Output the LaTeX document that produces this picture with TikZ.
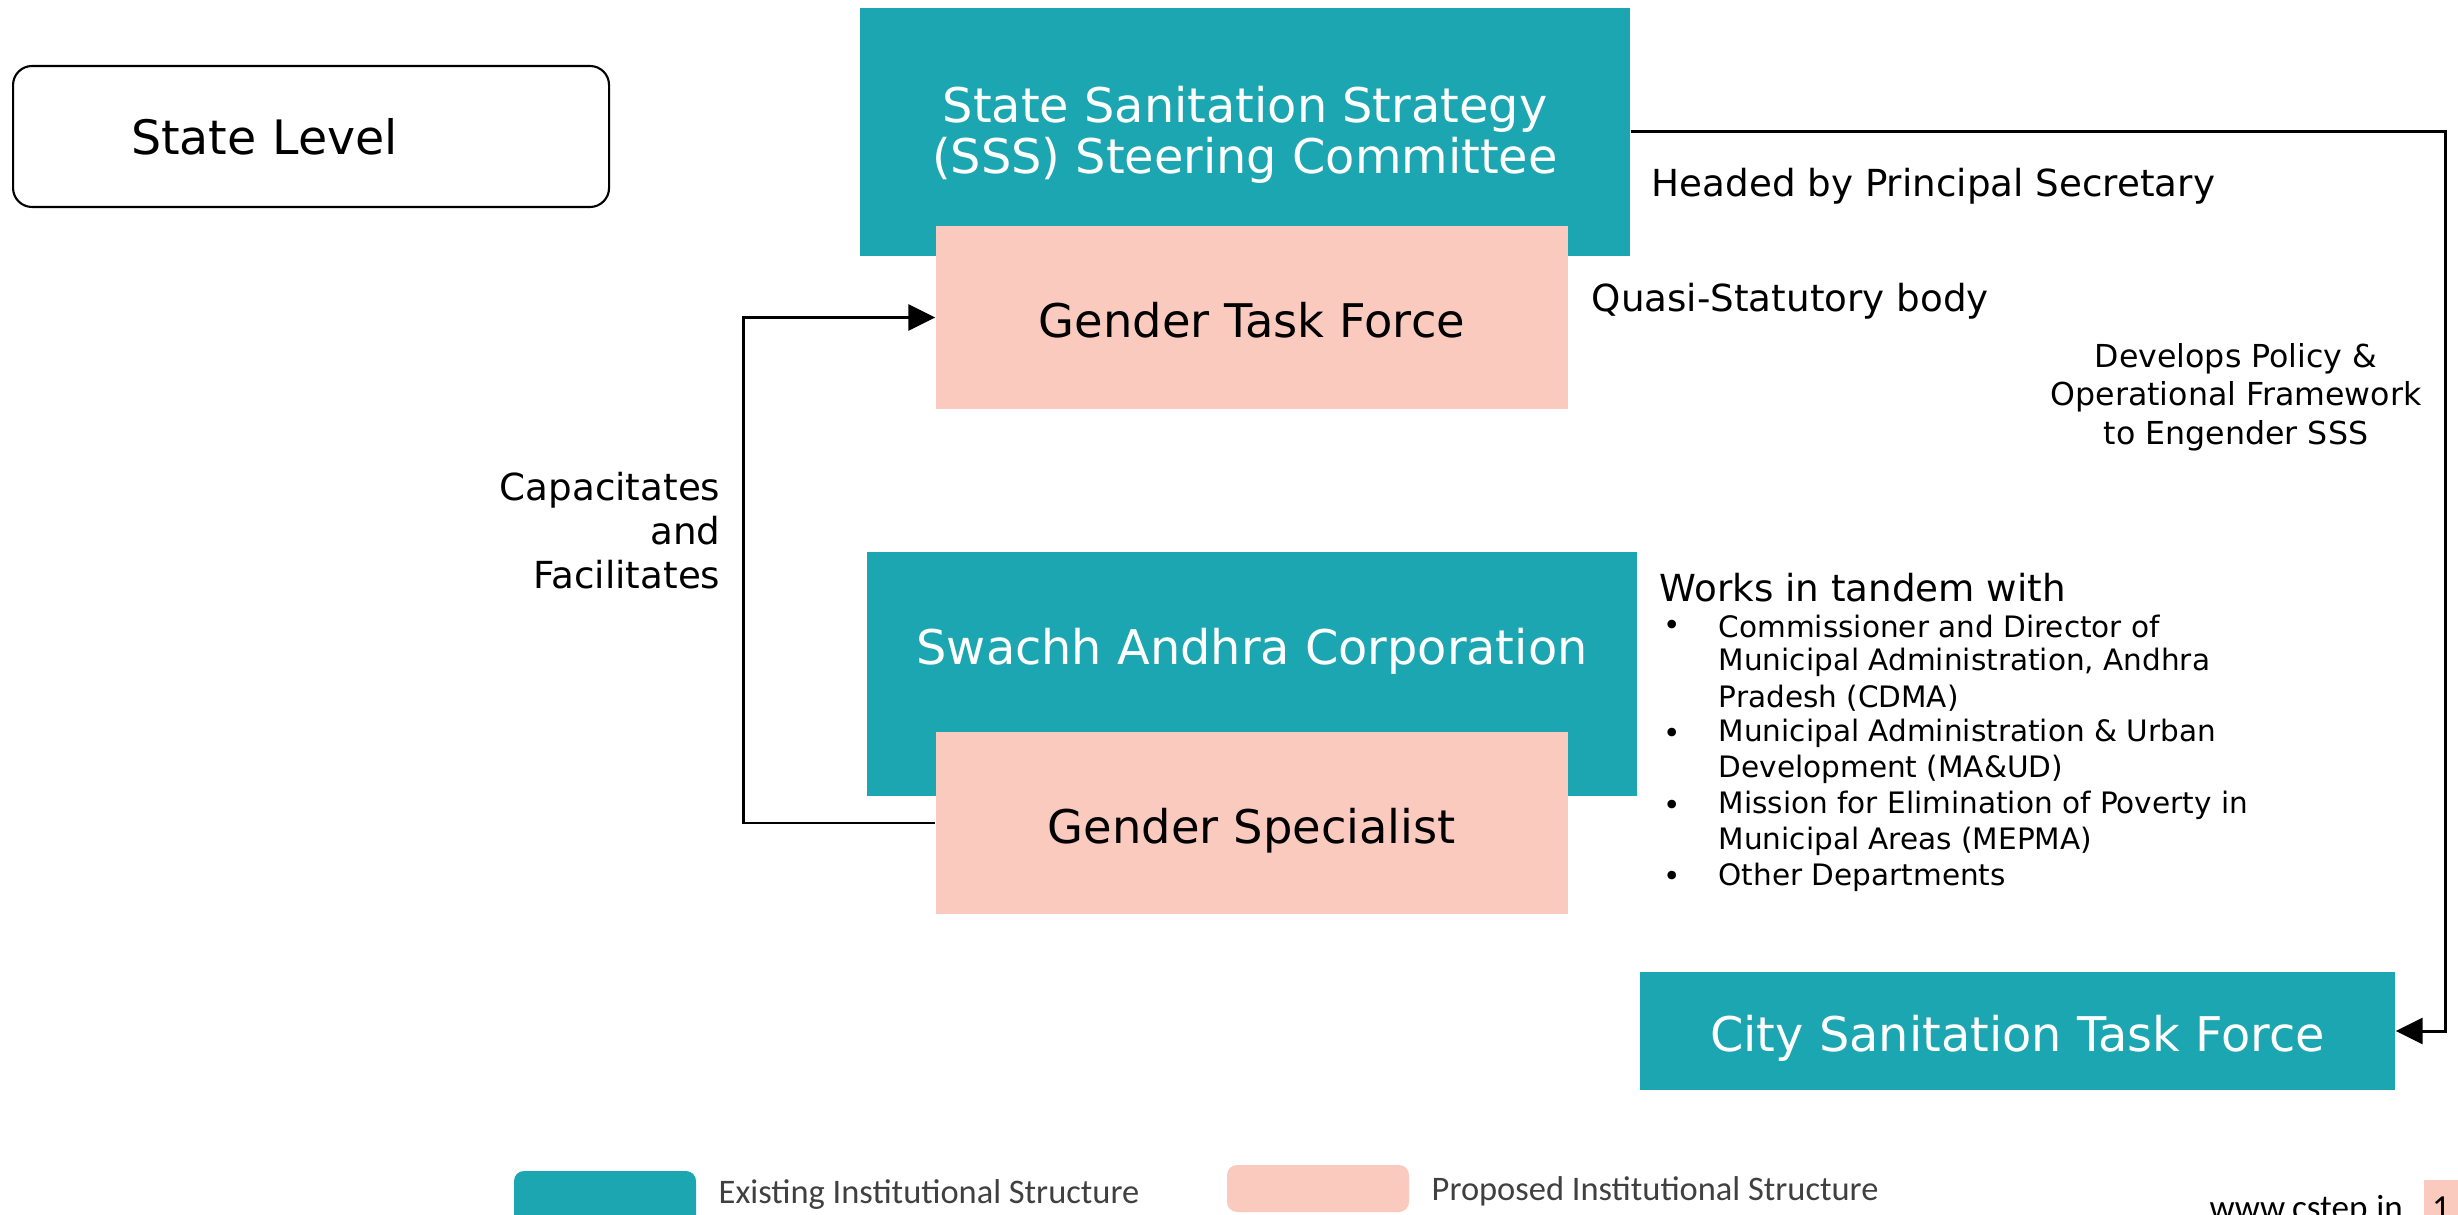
\documentclass[tikz,border=0pt]{standalone}
\usepackage{fontspec}
\setmainfont{DejaVu Sans}
\newfontfamily\legendfont{Carlito}
\usetikzlibrary{positioning, shapes, arrows.meta, calc}
\definecolor{existteal}{RGB}{27,166,178}
\definecolor{proppink}{RGB}{251,202,191}
\definecolor{legendgrey}{RGB}{64,64,64}

\begin{document}
\begin{tikzpicture}[x=0.1mm, y=-0.1mm,
    existing/.style={rectangle, fill=existteal, text=white, inner sep=0pt, align=center, font=\fontsize{13.6}{14.4}\selectfont},
    proposed/.style={rectangle, fill=proppink, text=black, inner sep=0pt, align=center, font=\fontsize{13.2}{14.4}\selectfont},
    oneline/.style={text height=4.0mm, text depth=0pt},
    note/.style={inner sep=0pt, font=\fontsize{10.6}{12.5}\selectfont},
    item/.style={inner sep=0pt, anchor=west, font=\fontsize{8.4}{10}\selectfont},
    legend/.style={inner sep=0pt, anchor=west, text=legendgrey, font=\legendfont\fontsize{9.8}{11}\selectfont},
    conn/.style={line width=0.85pt, -{Triangle[length=2.7mm, width=2.6mm]}}]
  \useasboundingbox (0,0) rectangle (2458,1215);

  % Nodes
  \node[draw, rounded corners=1.9mm, line width=0.6pt, anchor=west, minimum height=14.1mm, inner xsep=11.8mm, text width=36mm, align=left, font=\fontsize{13.5}{15}\selectfont] (state) at (12,136.5) {State Level};
  \node[existing, minimum width=77mm, minimum height=24.8mm] (steering) at (1245,132) {};
  \node[existing, fill=none, font=\fontsize{13.6}{14.6}\selectfont] (steeringname) at (1245,135) {State Sanitation Strategy\\(SSS) Steering Committee};
  \node[proposed, oneline, minimum width=63.2mm, minimum height=18.3mm] (taskforce) at (1252,317.5) {Gender Task Force};
  \node[existing, minimum width=77mm, minimum height=24.4mm] (swachh) at (1252,674) {};
  \node[existing, oneline, fill=none] (swachhname) at (1252,645) {Swachh Andhra Corporation};
  \node[proposed, oneline, minimum width=63.2mm, minimum height=18.2mm] (specialist) at (1252,823) {Gender Specialist};
  \node[existing, oneline, minimum width=75.5mm, minimum height=11.8mm] (city) at (2017.5,1031) {City Sanitation Task Force};

  \node[note, anchor=west] (headed) at (1651,186) {Headed by Principal Secretary};
  \node[note, anchor=west] (quasi) at (1591,301) {Quasi-Statutory body};
  \node[inner sep=0pt, align=center, font=\fontsize{9}{10.9}\selectfont] (develops) at (2236,397) {Develops Policy \&\\Operational Framework\\to Engender SSS};
  \node[note, anchor=east, align=right] (capacitates) at (721,531) {Capacitates\\and\\Facilitates};
  \node[note, anchor=west] (tandem) at (1659,588) {Works in tandem with};
  \foreach \txt [count=\k] in {Commissioner and Director of, {Municipal Administration, Andhra}, Pradesh (CDMA), Municipal Administration \& Urban, Development (MA\&UD), Mission for Elimination of Poverty in, Municipal Areas (MEPMA), Other Departments}
  \node[item] (line\k) at (1718,{626+35.9*(\k-1)}) {\txt};
  \foreach \k in {1,4,6,8}
  \node[item] (dot\k) at (1663,{628+35.9*(\k-1)}) {\textbullet};

  % Legend
  \node[fill=existteal, rounded corners=1mm, inner sep=0pt, minimum width=18.2mm, minimum height=5.4mm] (keyexist) at (605,1198) {};
  \node[legend] (keyexisttext) at (718,1194) {Existing Institutional Structure};
  \node[fill=proppink, rounded corners=1mm, inner sep=0pt, minimum width=18.2mm, minimum height=4.7mm] (keyprop) at (1318,1188.5) {};
  \node[legend] (keyproptext) at (1431,1191) {Proposed Institutional Structure};
  \node[inner sep=0pt, anchor=base west, font=\legendfont\fontsize{10}{12}\selectfont] (web) at (2209,1219) {www.cstep.in};
  \node[fill=proppink, inner sep=0pt, anchor=north west, minimum width=4mm, minimum height=4mm] (pagebox) at (2423,1179) {};
  \node[inner sep=0pt, anchor=base, font=\legendfont\fontsize{10}{12}\selectfont] (pagenum) at (2441,1219) {1};

  % Arrows
  \coordinate (bendright) at (2445,132);
  \coordinate (bendleft) at (743,823);
  \draw[conn] (steering.east) -- (bendright) |- (city.east);
  \draw[conn] (specialist.west) -- (bendleft) |- (taskforce.west);
\end{tikzpicture}
\end{document}
